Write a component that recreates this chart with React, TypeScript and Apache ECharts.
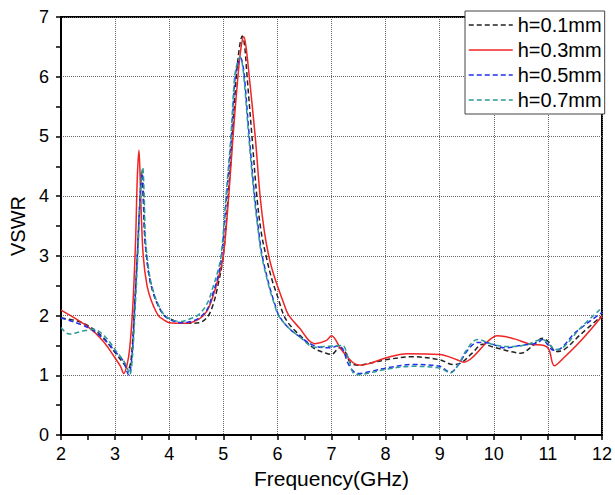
import React, { useEffect, useRef } from "react";
import * as echarts from "echarts";

const seriesNames = ["h=0.1mm", "h=0.3mm", "h=0.5mm", "h=0.7mm"];

const f01 = [2.0, 2.3, 2.5, 2.75, 3.0, 3.2, 3.25, 3.3, 3.36, 3.41, 3.46, 3.49, 3.52, 3.55, 3.6, 3.64, 3.7, 3.77, 3.89, 4.0, 4.3, 4.55, 4.7, 4.8, 4.9, 5.0, 5.09, 5.17, 5.24, 5.3, 5.35, 5.39, 5.44, 5.53, 5.62, 5.7, 5.79, 5.9, 6.0, 6.12, 6.25, 6.39, 6.55, 6.7, 6.9, 7.0, 7.15, 7.25, 7.35, 7.5, 7.75, 8.0, 8.5, 9.0, 9.25, 9.4, 9.6, 9.8, 10.0, 10.3, 10.5, 10.7, 10.9, 11.0, 11.15, 11.3, 11.6, 12.0];
const v01 = [1.96, 1.91, 1.83, 1.66, 1.38, 1.15, 1.12, 1.3, 2.16, 3.0, 3.95, 4.41, 3.95, 3.3, 2.85, 2.61, 2.4, 2.22, 2.02, 1.95, 1.87, 1.88, 1.97, 2.15, 2.5, 3.0, 4.0, 5.0, 6.0, 6.5, 6.68, 6.55, 6.0, 5.0, 4.0, 3.4, 3.0, 2.6, 2.33, 2.0, 1.82, 1.69, 1.55, 1.44, 1.37, 1.35, 1.46, 1.4, 1.21, 1.17, 1.21, 1.26, 1.31, 1.26, 1.18, 1.21, 1.37, 1.52, 1.47, 1.4, 1.37, 1.48, 1.62, 1.57, 1.4, 1.43, 1.68, 2.0];

const f03 = [2.0, 2.5, 2.78, 3.0, 3.1, 3.16, 3.22, 3.27, 3.33, 3.38, 3.41, 3.44, 3.46, 3.48, 3.52, 3.59, 3.67, 3.8, 3.9, 4.0, 4.3, 4.55, 4.7, 4.8, 4.9, 5.0, 5.1, 5.18, 5.27, 5.33, 5.38, 5.42, 5.48, 5.59, 5.68, 5.76, 5.84, 5.92, 6.0, 6.1, 6.2, 6.4, 6.69, 6.9, 7.0, 7.18, 7.4, 7.55, 7.75, 8.0, 8.4, 9.0, 9.32, 9.45, 9.63, 9.89, 10.07, 10.38, 10.68, 10.93, 11.02, 11.12, 11.29, 11.6, 12.0];
const v03 = [2.09, 1.81, 1.57, 1.29, 1.15, 1.03, 1.17, 1.45, 2.2, 3.3, 4.3, 4.77, 4.4, 3.8, 3.0, 2.5, 2.25, 2.0, 1.93, 1.88, 1.87, 1.94, 2.08, 2.3, 2.6, 3.0, 4.0, 5.0, 6.0, 6.5, 6.67, 6.5, 6.0, 5.0, 4.0, 3.4, 3.0, 2.72, 2.5, 2.25, 2.02, 1.8, 1.53, 1.58, 1.66, 1.43, 1.21, 1.17, 1.21, 1.29, 1.36, 1.35, 1.26, 1.22, 1.32, 1.57, 1.66, 1.61, 1.52, 1.5, 1.43, 1.16, 1.29, 1.57, 1.99];

const f05 = [2.0, 2.5, 2.8, 3.0, 3.15, 3.25, 3.31, 3.36, 3.41, 3.46, 3.5, 3.53, 3.55, 3.6, 3.64, 3.7, 3.77, 3.89, 4.0, 4.2, 4.4, 4.55, 4.7, 4.8, 4.9, 4.97, 5.06, 5.15, 5.22, 5.28, 5.32, 5.35, 5.39, 5.48, 5.58, 5.65, 5.72, 5.85, 5.95, 6.03, 6.2, 6.39, 6.7, 7.0, 7.1, 7.2, 7.3, 7.4, 7.5, 7.75, 8.0, 8.5, 9.0, 9.2, 9.35, 9.5, 9.7, 9.9, 10.2, 10.5, 10.8, 10.9, 11.0, 11.1, 11.2, 11.5, 12.0];
const v05 = [1.96, 1.8, 1.6, 1.4, 1.24, 1.01, 1.3, 2.1, 3.0, 3.95, 4.38, 3.9, 3.3, 2.85, 2.61, 2.4, 2.22, 2.02, 1.94, 1.88, 1.9, 1.96, 2.1, 2.35, 2.65, 3.0, 4.0, 5.0, 6.0, 6.25, 6.31, 6.25, 6.0, 5.0, 4.0, 3.45, 3.0, 2.5, 2.2, 2.0, 1.8, 1.66, 1.49, 1.46, 1.49, 1.45, 1.21, 1.07, 1.03, 1.07, 1.12, 1.18, 1.15, 1.05, 1.18, 1.4, 1.55, 1.54, 1.46, 1.5, 1.54, 1.6, 1.51, 1.42, 1.43, 1.71, 2.05];

const f07 = [2.0, 2.15, 2.4, 2.6, 2.8, 3.0, 3.2, 3.27, 3.32, 3.37, 3.42, 3.47, 3.51, 3.54, 3.56, 3.61, 3.65, 3.71, 3.78, 3.9, 4.0, 4.2, 4.4, 4.55, 4.7, 4.8, 4.9, 4.96, 5.05, 5.14, 5.21, 5.27, 5.31, 5.34, 5.38, 5.47, 5.57, 5.64, 5.71, 5.84, 5.94, 6.02, 6.2, 6.39, 6.7, 7.0, 7.2, 7.3, 7.4, 7.5, 7.75, 8.0, 8.5, 9.0, 9.2, 9.35, 9.5, 9.7, 10.0, 10.3, 10.6, 10.9, 11.0, 11.15, 11.3, 11.6, 12.0];
const v07 = [1.8, 1.69, 1.74, 1.77, 1.66, 1.43, 1.18, 1.01, 1.3, 2.1, 3.0, 4.0, 4.48, 3.95, 3.3, 2.85, 2.61, 2.4, 2.22, 2.02, 1.95, 1.9, 1.95, 2.02, 2.2, 2.45, 2.75, 3.0, 4.0, 5.0, 6.0, 6.27, 6.33, 6.27, 6.0, 5.0, 4.0, 3.45, 3.0, 2.5, 2.2, 2.0, 1.8, 1.66, 1.47, 1.49, 1.5, 1.32, 1.04, 1.01, 1.05, 1.1, 1.15, 1.12, 1.04, 1.19, 1.43, 1.6, 1.51, 1.48, 1.51, 1.6, 1.54, 1.43, 1.48, 1.79, 2.13];

const zip = (xs: number[], ys: number[]) => xs.map((x, i) => [x, ys[i]]);

const FONT = "'Liberation Sans', Arial, sans-serif";

export default function App() {
  const ref = useRef<HTMLDivElement>(null);
  useEffect(() => {
    if (!ref.current) return;
    const chart = echarts.init(ref.current, undefined, { renderer: "svg" });
    const mk = (name: string, xs: number[], ys: number[], color: string, type: any) => ({
      name,
      type: "line",
      data: zip(xs, ys),
      symbol: "none",
      showSymbol: false,
      smooth: 0.35,
      lineStyle: { color, width: 1.5, type },
      itemStyle: { color },
    });
    chart.setOption({
      animation: false,
      backgroundColor: "#fff",
      textStyle: { fontFamily: FONT },
      grid: { left: 61, right: 10, top: 17, bottom: 60, show: true, borderColor: "#000", borderWidth: 2, backgroundColor: "transparent" },
      legend: {
        orient: "vertical",
        left: 465,
        top: 11,
        data: seriesNames,
        itemWidth: 44,
        itemHeight: 12,
        itemGap: 5,
        padding: [4, 3, 4, 3],
        borderColor: "#444",
        borderWidth: 1,
        backgroundColor: "#fff",
        itemStyle: { opacity: 0 },
        lineStyle: { width: 1.5 },
        textStyle: { fontFamily: FONT, fontSize: 20, color: "#000", lineHeight: 20 },
      },
      xAxis: {
        type: "value",
        min: 2,
        max: 12,
        interval: 1,
        name: "Frequency(GHz)",
        nameLocation: "middle",
        nameGap: 32,
        nameTextStyle: { fontFamily: FONT, fontSize: 21, color: "#000" },
        axisLine: { show: true, onZero: false, lineStyle: { color: "#000", width: 2 } },
        axisTick: { show: true, length: 5, lineStyle: { color: "#000", width: 1.5 } },
        minorTick: { show: true, splitNumber: 2, length: 5, lineStyle: { color: "#000", width: 1.5 } },
        axisLabel: { fontFamily: FONT, fontSize: 18, color: "#000", margin: 10 },
        splitLine: { show: true, lineStyle: { color: "#666", type: "dotted", width: 1 } },
      },
      yAxis: {
        type: "value",
        min: 0,
        max: 7,
        interval: 1,
        name: "VSWR",
        nameLocation: "middle",
        nameGap: 33,
        nameTextStyle: { fontFamily: FONT, fontSize: 20, color: "#000" },
        axisLine: { show: true, onZero: false, lineStyle: { color: "#000", width: 2 } },
        axisTick: { show: true, length: 5, lineStyle: { color: "#000", width: 1.5 } },
        minorTick: { show: true, splitNumber: 2, length: 5, lineStyle: { color: "#000", width: 1.5 } },
        axisLabel: { fontFamily: FONT, fontSize: 18, color: "#000", margin: 12 },
        splitLine: { show: true, lineStyle: { color: "#666", type: "dotted", width: 1 } },
      },
      series: [
        mk(seriesNames[0], f01, v01, "#222222", [5, 3]),
        mk(seriesNames[1], f03, v03, "#f02424", "solid"),
        mk(seriesNames[2], f05, v05, "#1f2ff0", [5, 3]),
        mk(seriesNames[3], f07, v07, "#2e9a96", [5, 3]),
      ],
    });
    return () => chart.dispose();
  }, []);
  return <div ref={ref} style={{ width: 615, height: 495, position: "absolute", left: 0, top: 0 }} />;
}
